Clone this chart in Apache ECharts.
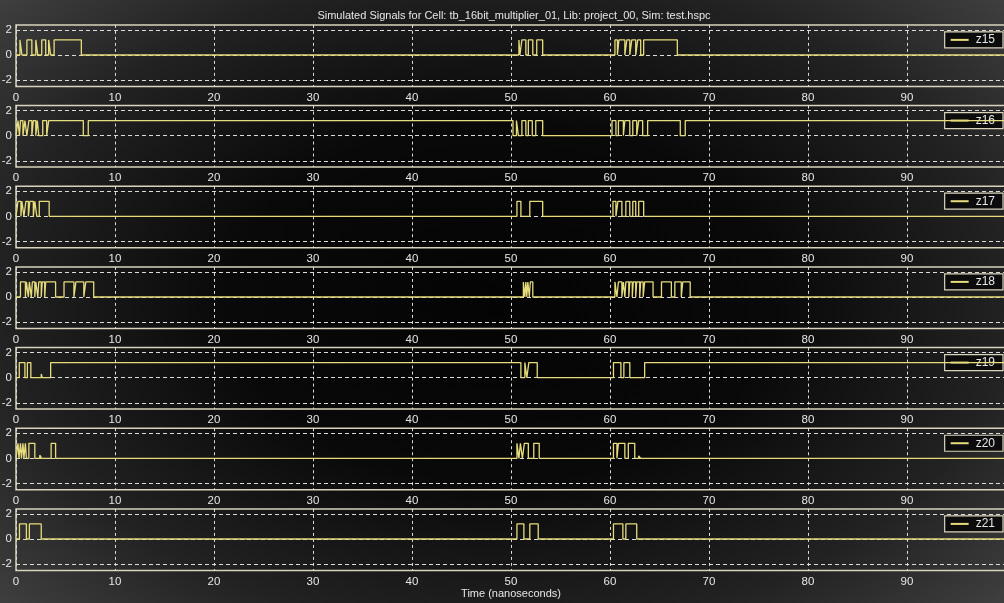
<!DOCTYPE html>
<html>
<head>
<meta charset="utf-8">
<script src="https://cdn.jsdelivr.net/npm/echarts@6/dist/echarts.min.js"></script>
<style>
html,body{margin:0;padding:0;width:1004px;height:603px;overflow:hidden;
background:radial-gradient(ellipse 68% 74% at 50% 50%, #040404 0%, #090909 40%, #222 74%, #464646 106%);}
#chart{width:1004px;height:603px;}
</style>
</head>
<body>
<div id="chart"></div>
<script>
// ---- data ----
const chartTitle = 'Simulated Signals for Cell: tb_16bit_multiplier_01, Lib: project_00, Sim: test.hspc';
const xAxisTitle = 'Time (nanoseconds)';
const signalNames = ['z15', 'z16', 'z17', 'z18', 'z19', 'z20', 'z21'];
const xTicks = [0, 10, 20, 30, 40, 50, 60, 70, 80, 90];
const yTicks = [-2, 0, 2];
const highLevel = 1.2;
const timeEnd = 100;

// high intervals [start ns, end ns, (level)]
const z15High = [[0.4,0.6],[1.1,1.6],[2.0,2.2],[2.6,3.0],[3.3,3.5],[3.85,6.6],
  [50.8,50.9],[51.1,51.5],[51.75,52.2],[52.6,53.2],
  [60.5,60.75],[60.9,61.5],[61.7,62.0],[62.2,62.6],[62.8,63.1],[63.4,66.8]];
const z16High = [[0.2,0.35],[0.45,0.7],[0.9,1.1],[1.3,1.6],[1.75,2.0],[2.15,2.3],[2.7,3.1],[3.3,6.8],[7.3,50.2],
  [50.55,50.75],[51.1,51.5],[51.75,52.15],[52.5,53.2],
  [60.2,60.6],[60.85,61.35],[61.5,62.0],[62.3,62.7],[62.9,63.3],[63.8,67.1],[67.6,100]];
const z17High = [[0.2,0.5],[0.6,0.8],[1.0,1.25],[1.4,1.75],[1.9,2.1],[2.35,3.35],
  [50.6,51.0],[51.9,53.2],
  [60.3,60.6],[60.8,61.2],[61.6,62.0],[62.3,62.6],[62.9,63.4]];
const z18High = [[0.45,0.95],[1.05,1.25],[1.35,1.55],[1.65,1.9],[2.0,2.2],[2.3,2.55],[2.65,2.9],[3.0,4.0],
  [4.85,5.85],[6.05,6.85],[7.05,7.85],
  [51.25,51.4],[51.5,51.6],[51.7,51.85],[51.95,52.2],
  [60.5,60.7],[60.85,61.2],[61.35,61.5],[61.6,61.9],[62.0,62.25],[62.35,62.6],[62.7,63.0],[63.1,63.35],[63.5,64.35],
  [65.2,66.2],[66.55,67.2],[67.35,68.1]];
const z19High = [[0.33,0.9],[1.15,1.5],[2.55,2.65,0.3],[3.5,51.0],[51.4,51.6],[51.8,52.65],
  [60.35,61.1],[61.4,62.0],[63.5,100]];
const z20High = [[0.2,0.3],[0.45,0.55],[0.7,0.8],[0.95,1.05],[1.3,1.9],[2.4,2.6,0.25],[3.55,4.0],
  [50.6,50.8],[50.95,51.15],[51.35,51.75],[52.3,52.85],
  [60.35,60.7],[60.85,61.5],[61.85,62.5],[62.9,63.1,0.2]];
const z21High = [[0.35,1.05],[1.35,2.55],
  [50.6,51.3],[51.9,52.75],
  [60.35,61.3],[61.6,62.7]];
const signalHighs = [z15High, z16High, z17High, z18High, z19High, z20High, z21High];

// ---- build ----
function toWave(intervals) {
  const pts = [[0, 0]];
  intervals.forEach(function (iv) {
    const lvl = iv.length > 2 ? iv[2] : highLevel;
    pts.push([iv[0], 0], [iv[0], lvl], [iv[1], lvl]);
    if (iv[1] < timeEnd) pts.push([iv[1], 0]);
  });
  const last = pts[pts.length - 1];
  if (last[0] < timeEnd) pts.push([timeEnd, last[1]]);
  return pts;
}

const fontFam = '"Liberation Sans", Arial, sans-serif';
const pxPerUnit = 12.55;
const zero0 = 55, rowStep = 80.67;
const yMin = -2.5, yMax = 2.4;
const grids = [], xAxes = [], yAxes = [], series = [], legends = [];
const lineColor = '#e6dc7c';
const gridColor = '#dcdcd6';

signalNames.forEach(function (name, i) {
  const zeroY = zero0 + rowStep * i;
  const top = zeroY - yMax * pxPerUnit;
  const height = (yMax - yMin) * pxPerUnit;
  grids.push({
    left: 16, width: 990, top: top, height: height,
    outerBoundsMode: 'none', containLabel: false,
    show: true, borderColor: '#d8d3bc', borderWidth: 1.5, backgroundColor: 'transparent'
  });
  const isLast = i === signalNames.length - 1;
  xAxes.push({
    type: 'value', gridIndex: i, min: 0, max: timeEnd, interval: 10,
    axisLine: { show: false }, axisTick: { show: false },
    axisLabel: {
      color: '#e6e6e6', fontSize: 11.5, fontFamily: fontFam, margin: 5,
      customValues: xTicks
    },
    splitLine: { show: true, lineStyle: { color: gridColor, width: 1, type: [3, 3] } },
    name: isLast ? xAxisTitle : '',
    nameLocation: 'middle', nameGap: 18,
    nameTextStyle: { color: '#e6e6e6', fontSize: 11, fontFamily: fontFam }
  });
  yAxes.push({
    type: 'value', gridIndex: i, min: yMin, max: yMax,
    axisLine: { show: false },
    axisTick: { show: false, customValues: yTicks },
    axisLabel: { color: '#e6e6e6', fontSize: 11.5, fontFamily: fontFam, margin: 4, customValues: yTicks },
    splitLine: { show: true, customValues: yTicks, lineStyle: { color: gridColor, width: 1, type: [4, 3] } }
  });
  series.push({
    name: name, type: 'line', xAxisIndex: i, yAxisIndex: i,
    data: toWave(signalHighs[i]), showSymbol: false, symbol: 'none',
    lineStyle: { color: lineColor, width: 1.3 }, itemStyle: { color: lineColor },
    animation: false, z: 5
  });
  legends.push({
    data: [name], right: 1, top: top + 7,
    orient: 'horizontal', padding: [2, 8, 2, 6],
    itemWidth: 18, itemHeight: 2, icon: 'rect', itemGap: 4,
    borderColor: '#d8d3bc', borderWidth: 1.2, backgroundColor: '#0c0c0c',
    textStyle: { color: '#e6e6e6', fontSize: 12, fontFamily: fontFam, padding: [0, 0, 0, 2] },
    selectedMode: false
  });
});

const chart = echarts.init(document.getElementById('chart'), null, { renderer: 'canvas' });
chart.setOption({
  backgroundColor: 'transparent',
  animation: false,
  title: {
    text: chartTitle, left: 509, textAlign: 'center', top: 5,
    textStyle: { color: '#e6e6e6', fontSize: 11, fontWeight: 'normal', fontFamily: fontFam }
  },
  grid: grids, xAxis: xAxes, yAxis: yAxes, legend: legends, series: series
});
</script>
</body>
</html>
